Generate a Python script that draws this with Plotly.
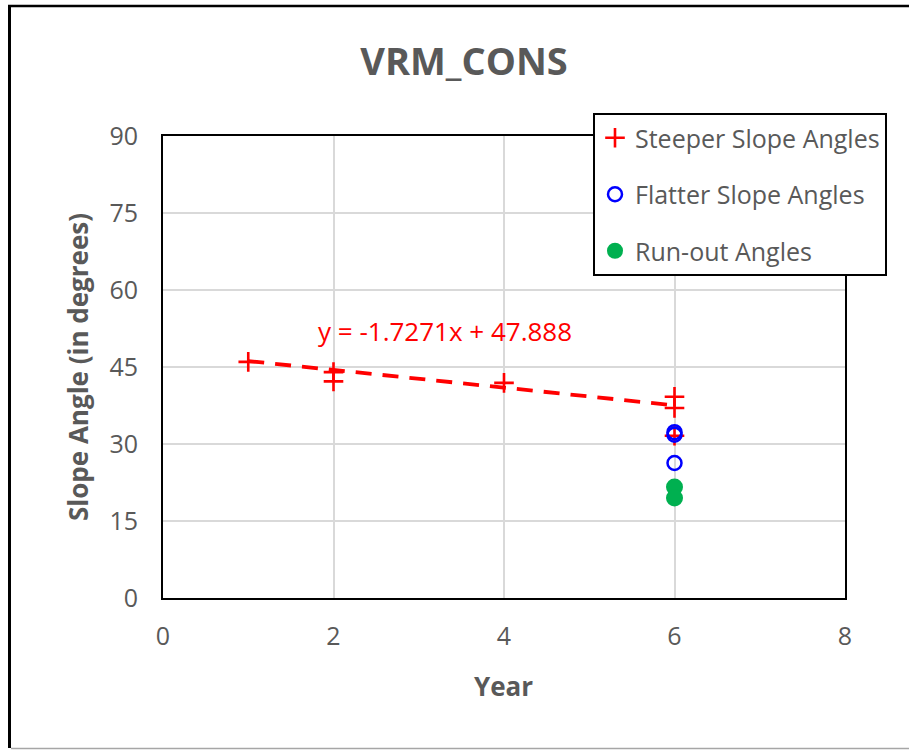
import plotly.graph_objects as go

# Slope angle observations by year
steeper_year = [1, 2, 2, 4, 6, 6, 6]
steeper_angle = [46.0, 44.0, 42.2, 41.9, 39.2, 37.0, 31.6]

flatter_year = [6, 6, 6]
flatter_angle = [32.3, 31.8, 26.3]

runout_year = [6, 6]
runout_angle = [21.6, 19.5]

# Linear trend fitted to the steeper slope angles
trend_slope = -1.7271
trend_intercept = 47.888
trend_x = [1, 6]

x_ticks = [0, 2, 4, 6, 8]
y_ticks = [0, 15, 30, 45, 60, 75, 90]

FONT = "Open Sans"
GRAY = "#595959"

W, H = 909, 750
ML, MR, MT, MB = 163, 64, 136, 152
PW, PH = W - ML - MR, H - MT - MB


def px_x(px):
    return (px - ML) / PW


def px_y(py):
    return (H - MB - py) / PH


fig = go.Figure()

fig.add_trace(go.Scatter(
    x=trend_x,
    y=[trend_slope * v + trend_intercept for v in trend_x],
    mode="lines",
    line=dict(color="#ff0000", width=3.8, dash="16px,11px"),
    showlegend=False,
    hoverinfo="skip",
))

fig.add_trace(go.Scatter(
    x=steeper_year, y=steeper_angle, mode="markers",
    name="Steeper Slope Angles", legendgroup="a",
    marker=dict(symbol="cross-thin", size=14, color="#ff0000",
                line=dict(color="#ff0000", width=2.6)),
))
fig.add_trace(go.Scatter(
    x=flatter_year, y=flatter_angle, mode="markers",
    name="Flatter Slope Angles", legendgroup="b",
    marker=dict(symbol="circle-open", size=14, color="#0000ff",
                line=dict(color="#0000ff", width=2.5)),
))
fig.add_trace(go.Scatter(
    x=runout_year, y=runout_angle, mode="markers",
    name="Run-out Angles", legendgroup="c",
    marker=dict(symbol="circle", size=17, color="#00b050",
                line=dict(width=0)),
))

axis_common = dict(
    showgrid=True, gridcolor="#d9d9d9", gridwidth=1.5,
    zeroline=False, showline=True, linecolor="black", linewidth=2,
    mirror=True, ticks="", tickfont=dict(family=FONT, size=25, color=GRAY),
)

fig.update_xaxes(range=[0, 8], tickvals=x_ticks, ticklabelstandoff=15,
                 **axis_common)
fig.update_yaxes(range=[0, 90], tickvals=y_ticks, ticklabelstandoff=18,
                 **axis_common)

fig.update_layout(
    width=W, height=H,
    margin=dict(l=ML, r=MR, t=MT, b=MB, autoexpand=False),
    paper_bgcolor="white", plot_bgcolor="white",
    title=dict(text="<b>VRM_CONS</b>", x=464 / W,
               xanchor="center", y=1 - 62 / H, yanchor="middle",
               font=dict(family=FONT, size=38, color=GRAY)),
    legend=dict(
        x=px_x(593), y=px_y(113), xanchor="left", yanchor="top",
        bgcolor="white", bordercolor="black", borderwidth=2,
        font=dict(family=FONT, size=25, color=GRAY),
        traceorder="grouped", tracegroupgap=21,
        itemwidth=30,
    ),
    annotations=[
        dict(text="y = -1.7271x + 47.888", x=3.31, y=52.0, xref="x", yref="y",
             showarrow=False, xanchor="center", yanchor="middle",
             font=dict(family=FONT, size=26, color="#ff0000")),
        dict(text="<b>Year</b>", x=px_x(503), y=px_y(686), xref="paper",
             yref="paper", showarrow=False, xanchor="center", yanchor="middle",
             font=dict(family=FONT, size=26, color=GRAY)),
        dict(text="<b>Slope Angle (in degrees)</b>", x=px_x(78), y=px_y(367),
             xref="paper", yref="paper", showarrow=False, textangle=-90,
             xanchor="center", yanchor="middle",
             font=dict(family=FONT, size=26, color=GRAY)),
    ],
    shapes=[
        # outer chart frame
        dict(type="line", xref="paper", yref="paper",
             x0=px_x(9.5), x1=px_x(9.5), y0=px_y(6), y1=px_y(748),
             line=dict(color="black", width=3)),
        dict(type="line", xref="paper", yref="paper",
             x0=px_x(8), x1=px_x(W + 5), y0=px_y(6), y1=px_y(6),
             line=dict(color="black", width=2.5)),
        dict(type="line", xref="paper", yref="paper",
             x0=px_x(11), x1=px_x(W + 5), y0=px_y(748.5), y1=px_y(748.5),
             line=dict(color="#a6a6a6", width=1.5)),
    ],
)

fig.write_html("out.html")
